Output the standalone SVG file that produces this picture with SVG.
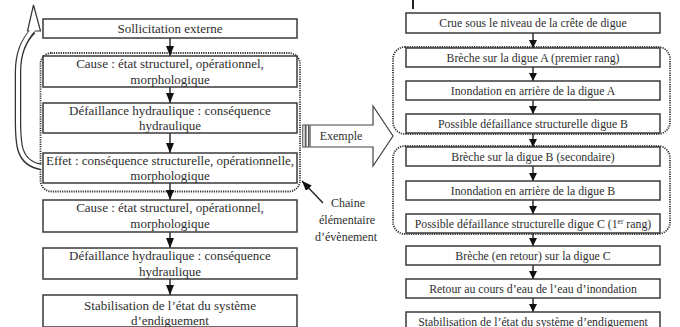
<svg xmlns="http://www.w3.org/2000/svg" width="680" height="327" viewBox="0 0 680 327">
  <defs>
    <style>
      .box { fill: #ffffff; stroke: #3a3a3a; stroke-width: 1.5; }
      .group { fill: none; stroke: #333333; stroke-width: 1.8; stroke-dasharray: 1.2 1.1; }
      .lt { font-size: 13px; fill: #2e2e2e; text-anchor: middle; }
      .ct { font-size: 12px; fill: #2e2e2e; text-anchor: middle; }
      .rt { font-size: 11.8px; fill: #2e2e2e; text-anchor: middle; }
      .link { stroke: #222222; stroke-width: 1.4; fill: none; }
      .link-l { marker-end: url(#headL); }
      .link-r { marker-end: url(#headR); }
    </style>
    <marker id="headL" viewBox="0 0 10 8" refX="10" refY="4" markerWidth="10" markerHeight="8" markerUnits="userSpaceOnUse" orient="auto">
      <path d="M0,0 L10,4 L0,8 Z" fill="#111111"/>
    </marker>
    <marker id="headR" viewBox="0 0 8 8" refX="8" refY="4" markerWidth="8" markerHeight="8" markerUnits="userSpaceOnUse" orient="auto">
      <path d="M0,0 L8,4 L0,8 Z" fill="#111111"/>
    </marker>
    <marker id="headChain" viewBox="0 0 10 8" refX="10" refY="4" markerWidth="10" markerHeight="8" markerUnits="userSpaceOnUse" orient="auto">
      <path d="M0,0 L10,4 L0,8 Z" fill="#111111"/>
    </marker>
  </defs>

  <rect width="680" height="327" fill="#ffffff"/>

  <!-- elementary event chain groupings (dotted) -->
  <g id="groups">
    <rect class="group" x="40.5" y="53" width="259.5" height="138.5" rx="11"/>
    <rect class="group" x="393" y="47" width="277" height="87" rx="12"/>
    <rect class="group" x="393" y="146" width="277" height="88" rx="12"/>
  </g>

  <!-- connectors -->
  <g id="connectors">
    <line class="link link-l" x1="170" y1="38" x2="170" y2="56"/>
    <line class="link link-l" x1="170" y1="87" x2="170" y2="103"/>
    <line class="link link-l" x1="170" y1="133" x2="170" y2="153"/>
    <line class="link link-l" x1="170" y1="183" x2="170" y2="200"/>
    <line class="link link-l" x1="170" y1="232" x2="170" y2="248"/>
    <line class="link link-l" x1="170" y1="279" x2="170" y2="295"/>

    <line class="link link-r" x1="533" y1="33" x2="533" y2="48"/>
    <line class="link link-r" x1="533" y1="67" x2="533" y2="81"/>
    <line class="link link-r" x1="533" y1="100" x2="533" y2="114"/>
    <line class="link link-r" x1="533" y1="133" x2="533" y2="147"/>
    <line class="link link-r" x1="533" y1="166" x2="533" y2="181"/>
    <line class="link link-r" x1="533" y1="200" x2="533" y2="214"/>
    <line class="link link-r" x1="533" y1="233" x2="533" y2="246"/>
    <line class="link link-r" x1="533" y1="265" x2="533" y2="279"/>
    <line class="link link-r" x1="533" y1="298" x2="533" y2="312"/>

    <!-- pointer to the dotted chain -->
    <line class="link" x1="323" y1="203" x2="302" y2="181" marker-end="url(#headChain)"/>

    <!-- hollow feedback arrow looping back to the external load -->
    <g id="loop-arrow">
      <path d="M41,167 C16,163 18,140 18,112 L18,72 C18,52 24,40 33,31" fill="none" stroke="#333333" stroke-width="6.5"/>
      <polygon points="33.5,5 40.5,31 27.5,31" fill="#ffffff" stroke="#333333" stroke-width="1.2" stroke-linejoin="miter"/>
      <path d="M42,167 C16,163 18,140 18,112 L18,72 C18,52 24,40 33.5,29" fill="none" stroke="#ffffff" stroke-width="4"/>
    </g>
  </g>

  <g font-family="Liberation Serif, Times New Roman, Tinos, DejaVu Serif, serif">
  <!-- left column: generic chain -->
  <g id="n-sollicitation">
    <rect class="box" x="43" y="19" width="254" height="19"/>
    <text class="lt" x="170" y="33">Sollicitation externe</text>
  </g>
  <g id="n-cause-1">
    <rect class="box" x="43" y="56" width="254" height="31"/>
    <text class="lt" x="170" y="67.5">Cause : état structurel, opérationnel,</text>
    <text class="lt" x="170" y="83.5">morphologique</text>
  </g>
  <g id="n-defaillance-1">
    <rect class="box" x="43" y="103" width="254" height="30"/>
    <text class="lt" x="170" y="114.5">Défaillance hydraulique : conséquence</text>
    <text class="lt" x="170" y="130">hydraulique</text>
  </g>
  <g id="n-effet">
    <rect class="box" x="43" y="153" width="254" height="30"/>
    <text class="lt" x="170" y="164.5">Effet : conséquence structurelle, opérationnelle,</text>
    <text class="lt" x="170" y="180">morphologique</text>
  </g>
  <g id="n-cause-2">
    <rect class="box" x="43" y="200" width="254" height="32"/>
    <text class="lt" x="170" y="211.5">Cause : état structurel, opérationnel,</text>
    <text class="lt" x="170" y="227.5">morphologique</text>
  </g>
  <g id="n-defaillance-2">
    <rect class="box" x="43" y="248" width="254" height="31"/>
    <text class="lt" x="170" y="259.5">Défaillance hydraulique : conséquence</text>
    <text class="lt" x="170" y="275.5">hydraulique</text>
  </g>
  <g id="n-stabilisation-1">
    <rect class="box" x="43" y="295" width="254" height="32"/>
    <text class="lt" x="170" y="309.5">Stabilisation de l’état du système</text>
    <text class="lt" x="170" y="324.5">d’endiguement</text>
  </g>

  <!-- chain label -->
  <g id="n-chain-label">
    <text class="ct" x="348" y="207">Chaine</text>
    <text class="ct" x="347" y="224">élémentaire</text>
    <text class="ct" x="346" y="241">d’évènement</text>
  </g>

  <!-- "Exemple" block arrow -->
  <g id="n-exemple">
    <rect x="302.8" y="125" width="2.4" height="22" fill="#ffffff" stroke="#444444" stroke-width="1"/>
    <rect x="306" y="125" width="2.6" height="22" fill="#ffffff" stroke="#444444" stroke-width="1"/>
    <path d="M310,125 L373,125 L373,106 L393,136 L373,166 L373,147 L310,147 Z" fill="#ffffff" stroke="#444444" stroke-width="1.2"/>
    <text class="ct" x="341" y="140">Exemple</text>
  </g>

  <!-- right column: example chain -->
  <g id="n-crue">
    <rect class="box" x="406" y="13" width="254" height="20"/>
    <text class="rt" x="533" y="27">Crue sous le niveau de la crête de digue</text>
  </g>
  <g id="n-breche-a">
    <rect class="box" x="406" y="48" width="254" height="19"/>
    <text class="rt" x="533" y="61.5">Brèche sur la digue A (premier rang)</text>
  </g>
  <g id="n-inondation-a">
    <rect class="box" x="406" y="81" width="254" height="19"/>
    <text class="rt" x="533" y="94.5">Inondation en arrière de la digue A</text>
  </g>
  <g id="n-possible-b">
    <rect class="box" x="406" y="114" width="254" height="19"/>
    <text class="rt" x="533" y="127.5">Possible défaillance structurelle digue B</text>
  </g>
  <g id="n-breche-b">
    <rect class="box" x="406" y="147" width="254" height="19"/>
    <text class="rt" x="533" y="160.5">Brèche sur la digue B (secondaire)</text>
  </g>
  <g id="n-inondation-b">
    <rect class="box" x="406" y="181" width="254" height="19"/>
    <text class="rt" x="533" y="194.5">Inondation en arrière de la digue B</text>
  </g>
  <g id="n-possible-c">
    <rect class="box" x="406" y="214" width="254" height="19"/>
    <text class="rt" x="533" y="227.5">Possible défaillance structurelle digue C (1<tspan font-size="7.5" dy="-3.5">er</tspan><tspan dy="3.5"> rang)</tspan></text>
  </g>
  <g id="n-breche-c">
    <rect class="box" x="406" y="246" width="254" height="19"/>
    <text class="rt" x="533" y="259.5">Brèche (en retour) sur la digue C</text>
  </g>
  <g id="n-retour">
    <rect class="box" x="406" y="279" width="254" height="19"/>
    <text class="rt" x="533" y="292.5">Retour au cours d’eau de l’eau d’inondation</text>
  </g>
  <g id="n-stabilisation-2">
    <rect class="box" x="406" y="312" width="254" height="20"/>
    <text class="rt" x="533" y="325.5">Stabilisation de l’état du système d’endiguement</text>
  </g>
  </g>

  <!-- small mark above the example column -->
  <line x1="413" y1="0" x2="413" y2="9" stroke="#222222" stroke-width="2"/>
</svg>
